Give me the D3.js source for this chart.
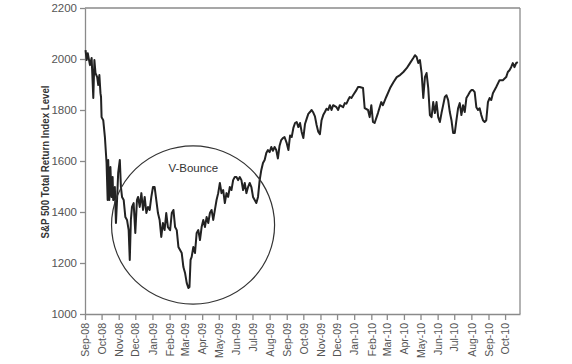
<!DOCTYPE html>
<html>
<head>
<meta charset="utf-8">
<script src="https://cdn.jsdelivr.net/npm/d3@7"></script>
<style>
  body { margin: 0; background: #fff; }
  svg { display: block; font-family: "Liberation Sans Narrow", "Liberation Sans", Arial, sans-serif; }
  .axis path, .axis line { stroke: #8a8a8a; stroke-width: 1.3; }
  .axis text { fill: #555; font-size: 11.5px; }
  .x.axis text { font-size: 10.5px; }
</style>
</head>
<body>
<svg width="572" height="364"></svg>
<script>
// S&P 500 total return index, Sep 2008 - Oct 2010
var dates = [
  "2008-09-02","2008-09-04","2008-09-06","2008-09-10","2008-09-13","2008-09-16","2008-09-18","2008-09-20","2008-09-23","2008-09-25","2008-09-27","2008-09-29","2008-09-30",
  "2008-10-01","2008-10-04","2008-10-07","2008-10-10","2008-10-12","2008-10-13","2008-10-15","2008-10-17","2008-10-19","2008-10-21","2008-10-22","2008-10-25","2008-10-27","2008-10-29","2008-10-31",
  "2008-11-03","2008-11-05","2008-11-07","2008-11-10","2008-11-13","2008-11-16","2008-11-19","2008-11-21","2008-11-23","2008-11-25","2008-11-28",
  "2008-12-01","2008-12-04","2008-12-06","2008-12-09","2008-12-12","2008-12-15","2008-12-18","2008-12-21","2008-12-24","2008-12-27","2008-12-30",
  "2009-01-02","2009-01-05","2009-01-08","2009-01-11","2009-01-14","2009-01-17","2009-01-20","2009-01-23","2009-01-26","2009-01-29",
  "2009-02-02","2009-02-05","2009-02-08","2009-02-11","2009-02-14","2009-02-17","2009-02-20","2009-02-23","2009-02-26",
  "2009-03-01","2009-03-04","2009-03-07","2009-03-09","2009-03-11","2009-03-13","2009-03-16","2009-03-19","2009-03-22","2009-03-25","2009-03-28","2009-03-31",
  "2009-04-03","2009-04-06","2009-04-09","2009-04-12","2009-04-15","2009-04-18","2009-04-21","2009-04-24","2009-04-27","2009-04-30",
  "2009-05-03","2009-05-06","2009-05-09","2009-05-12","2009-05-15","2009-05-18","2009-05-21","2009-05-24","2009-05-27","2009-05-30",
  "2009-06-02","2009-06-05","2009-06-08","2009-06-11","2009-06-14","2009-06-17","2009-06-20","2009-06-23","2009-06-26","2009-06-29",
  "2009-07-02","2009-07-05","2009-07-08","2009-07-11","2009-07-14","2009-07-17","2009-07-20","2009-07-23","2009-07-26","2009-07-29",
  "2009-08-01","2009-08-04","2009-08-07","2009-08-10","2009-08-13","2009-08-16","2009-08-19","2009-08-22","2009-08-25","2009-08-28",
  "2009-09-01","2009-09-04","2009-09-07","2009-09-10","2009-09-13","2009-09-16","2009-09-19","2009-09-22","2009-09-25","2009-09-28",
  "2009-10-01","2009-10-04","2009-10-07","2009-10-10","2009-10-13","2009-10-16","2009-10-19","2009-10-22","2009-10-25","2009-10-28","2009-10-31",
  "2009-11-03","2009-11-06","2009-11-09","2009-11-12","2009-11-15","2009-11-18","2009-11-21","2009-11-24","2009-11-30",
  "2009-12-03","2009-12-06","2009-12-12","2009-12-15","2009-12-18","2009-12-21","2009-12-24","2009-12-27","2009-12-30",
  "2010-01-05","2010-01-08","2010-01-11","2010-01-17","2010-01-20","2010-01-26","2010-01-29",
  "2010-02-01","2010-02-04","2010-02-07","2010-02-13","2010-02-19","2010-02-22","2010-02-28",
  "2010-03-07","2010-03-13","2010-03-19","2010-03-25","2010-03-31",
  "2010-04-06","2010-04-12","2010-04-18","2010-04-21","2010-04-24","2010-04-27","2010-04-30",
  "2010-05-03","2010-05-06","2010-05-09","2010-05-12","2010-05-15","2010-05-18","2010-05-21","2010-05-24","2010-05-27","2010-05-30",
  "2010-06-02","2010-06-05","2010-06-08","2010-06-11","2010-06-14","2010-06-17","2010-06-20","2010-06-23","2010-06-26","2010-06-29",
  "2010-07-02","2010-07-05","2010-07-08","2010-07-11","2010-07-14","2010-07-17","2010-07-20","2010-07-23","2010-07-26","2010-07-29",
  "2010-08-01","2010-08-04","2010-08-07","2010-08-10","2010-08-13","2010-08-16","2010-08-19","2010-08-22","2010-08-25","2010-08-28",
  "2010-08-31","2010-09-03","2010-09-06","2010-09-09","2010-09-15","2010-09-21","2010-09-27",
  "2010-10-03","2010-10-06","2010-10-09","2010-10-12","2010-10-15","2010-10-18","2010-10-21","2010-10-24"
];
var values = [
  2035,1996,2023,1976,2004,1847,1996,1945,1929,1898,1937,1866,1851,
  1772,1760,1694,1592,1447,1604,1447,1576,1459,1537,1447,1498,1357,1447,1553,
  1604,1498,1459,1447,1380,1369,1329,1212,1369,1420,1435,
  1318,1447,1459,1420,1474,1408,1459,1396,1420,1408,1459,
  1498,1498,1447,1396,1369,1302,1357,1329,1396,1341,
  1329,1396,1408,1341,1329,1263,1251,1239,1184,
  1161,1122,1102,1106,1212,1224,1263,1239,1318,1329,1290,1341,
  1369,1341,1380,1357,1396,1408,1369,1408,1447,1474,
  1514,1474,1486,1435,1474,1459,1498,1486,1525,1537,
  1537,1525,1537,1525,1486,1514,1474,1498,1514,1498,
  1459,1447,1435,1459,1525,1565,1592,1604,1631,1643,
  1635,1655,1640,1655,1643,1610,1660,1682,1690,1694,
  1670,1643,1700,1694,1730,1749,1753,1733,1749,1714,
  1690,1745,1765,1785,1792,1800,1790,1775,1741,1715,1705,
  1760,1780,1792,1805,1800,1819,1800,1819,1811,
  1800,1819,1811,1827,1825,1839,1851,1847,1858,
  1878,1890,1890,1886,1807,1800,1772,
  1819,1753,1749,1788,1831,1819,1851,
  1886,1909,1929,1937,1949,
  1964,1984,2004,2015,2008,1984,1996,
  1945,1847,1929,1945,1886,1780,1772,1831,1788,1831,
  1772,1753,1788,1819,1851,1858,1839,1792,1760,1710,
  1710,1760,1807,1827,1780,1819,1792,1847,1858,1870,
  1878,1878,1870,1811,1800,1807,1780,1760,1753,1760,
  1831,1847,1839,1866,1890,1917,1917,
  1929,1949,1956,1968,1984,1968,1984,1988
];
var yTicks = [1000, 1200, 1400, 1600, 1800, 2000, 2200];

// annotation ellipse bounds, in data units
var bounceLeft = "2008-10-19", bounceRight = "2009-08-10";
var bounceTop = 1659, bounceBottom = 1039;
var bounceLabel = "V-Bounce";
var bounceLabelDate = "2009-03-16", bounceLabelValue = 1573;

var parse = d3.timeParse("%Y-%m-%d");
var data = dates.map(function (d, i) {
  return { date: parse(d), value: values[i] };
});

var svg = d3.select("svg"),
margin = { top: 8, right: 52, bottom: 50, left: 85 },
width = +svg.attr("width") - margin.left - margin.right,
height = +svg.attr("height") - margin.top - margin.bottom,
g = svg.append("g").attr("transform", "translate(" + margin.left + "," + margin.top + ")");

var x = d3.scaleTime()
  .domain([parse("2008-09-01"), parse("2010-10-28")])
  .range([0, width]);

var y = d3.scaleLinear()
  .domain([1000, 2200])
  .range([height, 0]);

// frame: top and right edges
g.append("line")
  .attr("x1", 0).attr("x2", width).attr("y1", 0).attr("y2", 0)
  .attr("stroke", "#8a8a8a").attr("stroke-width", 1.3);
g.append("line")
  .attr("x1", width).attr("x2", width).attr("y1", 0).attr("y2", height)
  .attr("stroke", "#8a8a8a").attr("stroke-width", 1.3);

// y axis
g.append("g")
  .attr("class", "y axis")
  .call(d3.axisLeft(y)
    .tickValues(yTicks)
    .tickFormat(d3.format("d"))
    .tickSize(5)
    .tickSizeOuter(0)
    .tickPadding(3));

// x axis
var xAxis = g.append("g")
  .attr("class", "x axis")
  .attr("transform", "translate(0," + height + ")")
  .call(d3.axisBottom(x)
    .ticks(d3.timeMonth.every(1))
    .tickFormat(d3.timeFormat("%b-%y"))
    .tickSize(6)
    .tickSizeOuter(0));

xAxis.selectAll("text")
  .attr("transform", "rotate(-90)")
  .attr("text-anchor", "end")
  .attr("x", -9)
  .attr("y", 0)
  .attr("dy", "0.35em");

// y axis title
svg.append("text")
  .attr("transform", "translate(49," + (margin.top + y(1600) + 1) + ") rotate(-90)")
  .attr("text-anchor", "middle")
  .attr("font-size", 11)
  .attr("font-weight", "bold")
  .attr("fill", "#333")
  .attr("textLength", 153)
  .attr("lengthAdjust", "spacingAndGlyphs")
  .text("S&P 500 Total Return Index Level");

// line
var line = d3.line()
  .x(function (d) { return x(d.date); })
  .y(function (d) { return y(d.value); });

g.append("path")
  .datum(data)
  .attr("fill", "none")
  .attr("stroke", "#222")
  .attr("stroke-width", 2)
  .attr("stroke-linejoin", "round")
  .attr("d", line);

// V-Bounce ellipse
var xl = x(parse(bounceLeft)), xr = x(parse(bounceRight));
var yt = y(bounceTop), yb = y(bounceBottom);
g.append("ellipse")
  .attr("cx", (xl + xr) / 2)
  .attr("cy", (yt + yb) / 2)
  .attr("rx", (xr - xl) / 2)
  .attr("ry", (yb - yt) / 2)
  .attr("fill", "none")
  .attr("stroke", "#333")
  .attr("stroke-width", 1.2);

g.append("text")
  .attr("x", x(parse(bounceLabelDate)))
  .attr("y", y(bounceLabelValue))
  .attr("dy", "0.35em")
  .attr("text-anchor", "middle")
  .attr("font-size", 11.5)
  .attr("fill", "#333")
  .text(bounceLabel);
</script>
</body>
</html>
